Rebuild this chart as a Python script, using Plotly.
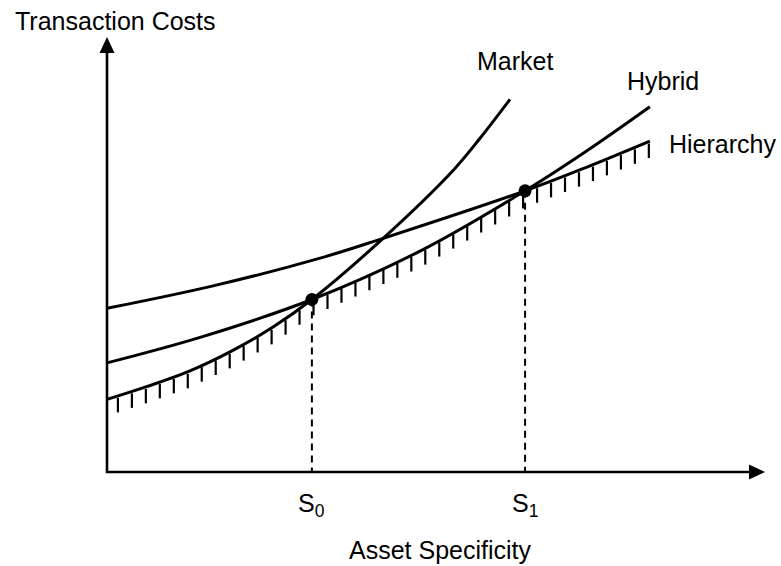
import numpy as np
import plotly.graph_objects as go

# ---- data (x: asset specificity, y: transaction costs, arbitrary units)
market_x = [0.0, 0.76, 1.56, 2.43, 3.20, 3.94, 5.31, 6.66, 7.17, 7.75]
market_y = [1.65, 1.94, 2.28, 2.77, 3.30, 3.92, 5.31, 6.86, 7.58, 8.47]
hybrid_x = [0.0, 1.79, 3.94, 6.02, 8.04, 9.23, 10.44]
hybrid_y = [2.48, 3.06, 3.92, 5.02, 6.39, 7.30, 8.30]
hierarchy_x = [0.0, 2.04, 4.10, 5.31, 8.04, 9.23, 10.44]
hierarchy_y = [3.72, 4.23, 4.86, 5.31, 6.39, 6.93, 7.52]
switch_x = [3.94, 8.04]          # S0, S1
switch_y = [3.92, 6.39]
switch_labels = ["S<sub>0</sub>", "S<sub>1</sub>"]
curve_labels = ["Market", "Hybrid", "Hierarchy"]
label_x = [7.08, 9.96, 10.77]
label_y = [9.34, 8.89, 7.45]
x_title = "Asset Specificity"
y_title = "Transaction Costs"

# ---- geometry / style
PX_X, PX_Y = 52.0, 44.0          # pixels per data unit
X0_PX, Y0_PX = 107.0, 472.0      # origin position in pixels
W, H = 781, 566
X_END = (765 - X0_PX) / PX_X     # x-axis arrow tip
Y_END = (Y0_PX - 37) / PX_Y      # y-axis arrow tip
ARROW_LEN, ARROW_HW = 16.0, 7.5  # pixels
LW = 3
FONT = dict(family="Liberation Sans, Arial, Helvetica, sans-serif", size=25, color="black")

fig = go.Figure()

# axes
fig.add_trace(go.Scatter(x=[0, 0, X_END - ARROW_LEN / PX_X], y=[Y_END - ARROW_LEN / PX_Y, 0, 0],
                         mode="lines", line=dict(color="black", width=2.6), hoverinfo="skip"))
fig.add_shape(type="path", xref="x", yref="y",
              path=f"M {-ARROW_HW/PX_X},{Y_END-ARROW_LEN/PX_Y} L {ARROW_HW/PX_X},{Y_END-ARROW_LEN/PX_Y} L 0,{Y_END} Z",
              fillcolor="black", line=dict(width=0))
fig.add_shape(type="path", xref="x", yref="y",
              path=f"M {X_END-ARROW_LEN/PX_X},{-ARROW_HW/PX_Y} L {X_END-ARROW_LEN/PX_X},{ARROW_HW/PX_Y} L {X_END},0 Z",
              fillcolor="black", line=dict(width=0))

# hatching under the lower envelope
def env(xv):
    vals = []
    for cx, cy in ((market_x, market_y), (hybrid_x, hybrid_y), (hierarchy_x, hierarchy_y)):
        if cx[0] <= xv <= cx[-1]:
            vals.append(np.interp(xv, cx, cy))
    return min(vals)

tick_x = np.linspace(0.21, 10.42, 39)
hx, hy = [], []
for t in tick_x:
    e = env(t)
    hx += [t, t, None]
    hy += [e - 2.0 / PX_Y, e - 16.5 / PX_Y, None]
fig.add_trace(go.Scatter(x=hx, y=hy, mode="lines", line=dict(color="black", width=2.2),
                         hoverinfo="skip"))

# dashed drop lines
for sx, sy in zip(switch_x, switch_y):
    fig.add_trace(go.Scatter(x=[sx, sx], y=[sy, 0], mode="lines",
                             line=dict(color="black", width=2, dash="7px,5px"), hoverinfo="skip"))

# curves
for cx, cy in ((market_x, market_y), (hybrid_x, hybrid_y), (hierarchy_x, hierarchy_y)):
    fig.add_trace(go.Scatter(x=cx, y=cy, mode="lines", line=dict(color="black", width=LW, shape="spline"),
                             hoverinfo="skip"))

# switch points
fig.add_trace(go.Scatter(x=switch_x, y=switch_y, mode="markers",
                         marker=dict(color="black", size=13), hoverinfo="skip"))

# labels
for t, lx, ly in zip(curve_labels, label_x, label_y):
    fig.add_annotation(x=lx, y=ly, text=t, showarrow=False, xanchor="left", yanchor="middle", font=FONT)
for t, sx in zip(switch_labels, switch_x):
    fig.add_annotation(x=sx, y=-0.75, text=t, showarrow=False, xanchor="center", yanchor="middle", font=FONT)
fig.add_annotation(x=6.42, y=-1.78, text=x_title, showarrow=False, xanchor="center", yanchor="middle", font=FONT)
fig.add_annotation(x=-1.81, y=10.26, text=y_title, showarrow=False, xanchor="left", yanchor="middle", font=FONT)

fig.update_layout(
    width=W, height=H, margin=dict(l=0, r=0, t=0, b=0),
    paper_bgcolor="white", plot_bgcolor="white", showlegend=False,
    xaxis=dict(visible=False, range=[-X0_PX / PX_X, (W - X0_PX) / PX_X]),
    yaxis=dict(visible=False, range=[-(H - Y0_PX) / PX_Y, Y0_PX / PX_Y]),
)
fig.write_html("out.html", config={"displayModeBar": False},
               post_script="document.body.style.margin='0';")
